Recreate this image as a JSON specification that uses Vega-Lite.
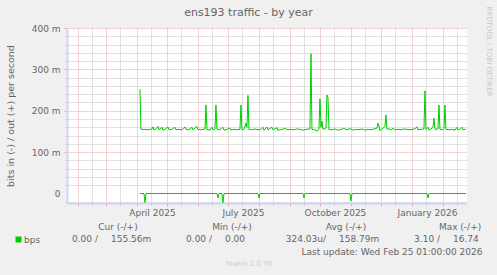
{
  "$schema": "https://vega.github.io/schema/vega-lite/v6.json",
  "width": 400,
  "height": 175,
  "autosize": {"type": "none"},
  "padding": {"left": 67, "top": 28, "right": 30, "bottom": 72},
  "background": "#F0F0F0",
  "view": {"fill": "#FFFFFF", "stroke": null},
  "config": {
    "font": "DejaVu Sans",
    "axis": {"labelFont": "DejaVu Sans", "titleFont": "DejaVu Sans"},
    "legend": {"labelFont": "DejaVu Sans"}
  },
  "title": {
    "text": "ens193 traffic - by year",
    "font": "DejaVu Sans",
    "fontSize": 11,
    "fontWeight": "normal",
    "color": "#666666",
    "anchor": "middle",
    "frame": "group",
    "dx": -18.5,
    "offset": -21,
    "baseline": "alphabetic"
  },
  "datasets": {
    "out": [
      {"date": "2025-04-04", "value": 252},
      {"date": "2025-04-05", "value": 155},
      {"date": "2025-04-09", "value": 155},
      {"date": "2025-04-13", "value": 154},
      {"date": "2025-04-16", "value": 156},
      {"date": "2025-04-17", "value": 161},
      {"date": "2025-04-18", "value": 153},
      {"date": "2025-04-20", "value": 156},
      {"date": "2025-04-22", "value": 162},
      {"date": "2025-04-23", "value": 154},
      {"date": "2025-04-26", "value": 160},
      {"date": "2025-04-27", "value": 153},
      {"date": "2025-04-29", "value": 155},
      {"date": "2025-05-02", "value": 161},
      {"date": "2025-05-03", "value": 154},
      {"date": "2025-05-06", "value": 155},
      {"date": "2025-05-09", "value": 160},
      {"date": "2025-05-10", "value": 154},
      {"date": "2025-05-13", "value": 155},
      {"date": "2025-05-16", "value": 154},
      {"date": "2025-05-19", "value": 161},
      {"date": "2025-05-20", "value": 155},
      {"date": "2025-05-23", "value": 154},
      {"date": "2025-05-26", "value": 160},
      {"date": "2025-05-27", "value": 154},
      {"date": "2025-05-31", "value": 162},
      {"date": "2025-06-01", "value": 155},
      {"date": "2025-06-04", "value": 154},
      {"date": "2025-06-08", "value": 156},
      {"date": "2025-06-09", "value": 214},
      {"date": "2025-06-10", "value": 155},
      {"date": "2025-06-13", "value": 153},
      {"date": "2025-06-15", "value": 160},
      {"date": "2025-06-16", "value": 154},
      {"date": "2025-06-18", "value": 156},
      {"date": "2025-06-19", "value": 214},
      {"date": "2025-06-20", "value": 155},
      {"date": "2025-06-23", "value": 154},
      {"date": "2025-06-26", "value": 160},
      {"date": "2025-06-27", "value": 153},
      {"date": "2025-06-30", "value": 155},
      {"date": "2025-07-03", "value": 158},
      {"date": "2025-07-04", "value": 153},
      {"date": "2025-07-07", "value": 155},
      {"date": "2025-07-10", "value": 154},
      {"date": "2025-07-13", "value": 155},
      {"date": "2025-07-14", "value": 214},
      {"date": "2025-07-15", "value": 154},
      {"date": "2025-07-17", "value": 155},
      {"date": "2025-07-19", "value": 170},
      {"date": "2025-07-20", "value": 160},
      {"date": "2025-07-21", "value": 237},
      {"date": "2025-07-22", "value": 155},
      {"date": "2025-07-25", "value": 154},
      {"date": "2025-07-28", "value": 156},
      {"date": "2025-07-31", "value": 154},
      {"date": "2025-08-03", "value": 155},
      {"date": "2025-08-05", "value": 160},
      {"date": "2025-08-06", "value": 153},
      {"date": "2025-08-09", "value": 161},
      {"date": "2025-08-10", "value": 154},
      {"date": "2025-08-14", "value": 160},
      {"date": "2025-08-15", "value": 154},
      {"date": "2025-08-19", "value": 159},
      {"date": "2025-08-20", "value": 153},
      {"date": "2025-08-24", "value": 155},
      {"date": "2025-08-27", "value": 157},
      {"date": "2025-08-30", "value": 154},
      {"date": "2025-09-02", "value": 155},
      {"date": "2025-09-05", "value": 154},
      {"date": "2025-09-08", "value": 156},
      {"date": "2025-09-11", "value": 155},
      {"date": "2025-09-14", "value": 153},
      {"date": "2025-09-17", "value": 155},
      {"date": "2025-09-21", "value": 156},
      {"date": "2025-09-22", "value": 338},
      {"date": "2025-09-23", "value": 155},
      {"date": "2025-09-26", "value": 154},
      {"date": "2025-09-28", "value": 151},
      {"date": "2025-09-30", "value": 155},
      {"date": "2025-10-01", "value": 229},
      {"date": "2025-10-02", "value": 160},
      {"date": "2025-10-03", "value": 175},
      {"date": "2025-10-04", "value": 155},
      {"date": "2025-10-07", "value": 158},
      {"date": "2025-10-08", "value": 238},
      {"date": "2025-10-09", "value": 232},
      {"date": "2025-10-10", "value": 155},
      {"date": "2025-10-13", "value": 154},
      {"date": "2025-10-16", "value": 156},
      {"date": "2025-10-19", "value": 153},
      {"date": "2025-10-22", "value": 155},
      {"date": "2025-10-25", "value": 157},
      {"date": "2025-10-28", "value": 154},
      {"date": "2025-10-31", "value": 157},
      {"date": "2025-11-03", "value": 153},
      {"date": "2025-11-06", "value": 155},
      {"date": "2025-11-09", "value": 154},
      {"date": "2025-11-12", "value": 156},
      {"date": "2025-11-15", "value": 153},
      {"date": "2025-11-18", "value": 155},
      {"date": "2025-11-21", "value": 154},
      {"date": "2025-11-24", "value": 156},
      {"date": "2025-11-27", "value": 158},
      {"date": "2025-11-28", "value": 170},
      {"date": "2025-11-29", "value": 163},
      {"date": "2025-11-30", "value": 152},
      {"date": "2025-12-02", "value": 156},
      {"date": "2025-12-04", "value": 160},
      {"date": "2025-12-05", "value": 162},
      {"date": "2025-12-06", "value": 190},
      {"date": "2025-12-07", "value": 155},
      {"date": "2025-12-09", "value": 157},
      {"date": "2025-12-11", "value": 153},
      {"date": "2025-12-13", "value": 158},
      {"date": "2025-12-15", "value": 154},
      {"date": "2025-12-18", "value": 155},
      {"date": "2025-12-21", "value": 154},
      {"date": "2025-12-24", "value": 156},
      {"date": "2025-12-27", "value": 155},
      {"date": "2025-12-30", "value": 154},
      {"date": "2026-01-02", "value": 155},
      {"date": "2026-01-05", "value": 158},
      {"date": "2026-01-06", "value": 161},
      {"date": "2026-01-07", "value": 154},
      {"date": "2026-01-10", "value": 155},
      {"date": "2026-01-13", "value": 156},
      {"date": "2026-01-14", "value": 248},
      {"date": "2026-01-15", "value": 155},
      {"date": "2026-01-17", "value": 160},
      {"date": "2026-01-18", "value": 154},
      {"date": "2026-01-20", "value": 156},
      {"date": "2026-01-22", "value": 160},
      {"date": "2026-01-23", "value": 182},
      {"date": "2026-01-24", "value": 155},
      {"date": "2026-01-27", "value": 156},
      {"date": "2026-01-28", "value": 214},
      {"date": "2026-01-29", "value": 155},
      {"date": "2026-02-01", "value": 154},
      {"date": "2026-02-02", "value": 157},
      {"date": "2026-02-03", "value": 214},
      {"date": "2026-02-04", "value": 155},
      {"date": "2026-02-07", "value": 154},
      {"date": "2026-02-10", "value": 155},
      {"date": "2026-02-13", "value": 153},
      {"date": "2026-02-15", "value": 160},
      {"date": "2026-02-16", "value": 154},
      {"date": "2026-02-18", "value": 155},
      {"date": "2026-02-20", "value": 160},
      {"date": "2026-02-21", "value": 154},
      {"date": "2026-02-23", "value": 155},
      {"date": "2026-02-24", "value": 155.56}
    ],
    "in": [
      {"date": "2025-04-04", "value": 0},
      {"date": "2025-04-08", "value": 0},
      {"date": "2025-04-09", "value": -22},
      {"date": "2025-04-10", "value": 0},
      {"date": "2025-06-20", "value": 0},
      {"date": "2025-06-21", "value": -11},
      {"date": "2025-06-22", "value": 0},
      {"date": "2025-06-25", "value": 0},
      {"date": "2025-06-26", "value": -22},
      {"date": "2025-06-27", "value": 0},
      {"date": "2025-07-31", "value": 0},
      {"date": "2025-08-01", "value": -11},
      {"date": "2025-08-02", "value": 0},
      {"date": "2025-09-14", "value": 0},
      {"date": "2025-09-15", "value": -11},
      {"date": "2025-09-16", "value": 0},
      {"date": "2025-10-31", "value": 0},
      {"date": "2025-11-01", "value": -18},
      {"date": "2025-11-02", "value": 0},
      {"date": "2026-01-16", "value": 0},
      {"date": "2026-01-17", "value": -11},
      {"date": "2026-01-18", "value": 0},
      {"date": "2026-02-24", "value": 0}
    ],
    "stats": [
      {"stat": "Cur", "header": "Cur (-/+)", "inv": "0.00 /", "outv": "155.56m"},
      {"stat": "Min", "header": "Min (-/+)", "inv": "0.00 /", "outv": "\u00a0\u00a00.00"},
      {"stat": "Avg", "header": "Avg (-/+)", "inv": "324.03u/", "outv": "158.79m"},
      {"stat": "Max", "header": "Max (-/+)", "inv": "3.10 /", "outv": "16.74"}
    ]
  },
  "layer": [
    {
      "layer": [
        {
          "data": {"name": "out"},
          "mark": {"type": "line", "opacity": 0},
          "encoding": {
            "x": {"field": "date", "type": "temporal",
              "scale": {"type": "utc", "domain": [{"year": 2025, "month": 1, "date": 21, "hours": 1, "utc": true}, {"year": 2026, "month": 2, "date": 25, "hours": 1, "utc": true}]},
              "axis": {"orient": "bottom", "grid": true, "gridColor": "#C4C4C4", "gridDash": [1, 1], "gridWidth": 1,
                "values": [
                  {"year": 2025, "month": 2, "date": 15, "utc": true},
                  {"year": 2025, "month": 3, "date": 15, "utc": true},
                  {"year": 2025, "month": 4, "date": 15, "utc": true},
                  {"year": 2025, "month": 5, "date": 15, "utc": true},
                  {"year": 2025, "month": 6, "date": 15, "utc": true},
                  {"year": 2025, "month": 7, "date": 15, "utc": true},
                  {"year": 2025, "month": 8, "date": 15, "utc": true},
                  {"year": 2025, "month": 9, "date": 15, "utc": true},
                  {"year": 2025, "month": 10, "date": 15, "utc": true},
                  {"year": 2025, "month": 11, "date": 15, "utc": true},
                  {"year": 2025, "month": 12, "date": 15, "utc": true},
                  {"year": 2026, "month": 1, "date": 15, "utc": true},
                  {"year": 2026, "month": 2, "date": 15, "utc": true}
                ],
                "labels": false, "ticks": true, "tickColor": "#C4C4C4", "tickSize": 2, "domain": false,
                "title": "Munin 2.0.76", "titleFontSize": 7, "titleFontWeight": "normal", "titleColor": "#CDCDCD",
                "titleX": 181.5, "titleY": 60, "titleAlign": "center", "titleBaseline": "middle"}},
            "y": {"field": "value", "type": "quantitative",
              "scale": {"domain": [-23, 400], "nice": false, "zero": false},
              "axis": {"orient": "left", "grid": true, "gridColor": "#C4C4C4", "gridDash": [1, 1], "gridWidth": 1,
                "values": [-20, 20, 40, 60, 80, 120, 140, 160, 180, 220, 240, 260, 280, 320, 340, 360, 380],
                "labels": false, "ticks": true, "tickColor": "#C4C4C4", "tickSize": 2, "domain": false, "title": null}}
          }
        },
        {
          "data": {"name": "out"},
          "mark": {"type": "line", "opacity": 0},
          "encoding": {
            "x": {"field": "date", "type": "temporal",
              "scale": {"type": "utc", "domain": [{"year": 2025, "month": 1, "date": 21, "hours": 1, "utc": true}, {"year": 2026, "month": 2, "date": 25, "hours": 1, "utc": true}]},
              "axis": {"orient": "bottom", "grid": true, "gridColor": "#EFA8A8", "gridDash": [1, 1], "gridWidth": 1,
                "values": [
                  {"year": 2025, "month": 2, "date": 1, "utc": true},
                  {"year": 2025, "month": 3, "date": 1, "utc": true},
                  {"year": 2025, "month": 4, "date": 1, "utc": true},
                  {"year": 2025, "month": 5, "date": 1, "utc": true},
                  {"year": 2025, "month": 6, "date": 1, "utc": true},
                  {"year": 2025, "month": 7, "date": 1, "utc": true},
                  {"year": 2025, "month": 8, "date": 1, "utc": true},
                  {"year": 2025, "month": 9, "date": 1, "utc": true},
                  {"year": 2025, "month": 10, "date": 1, "utc": true},
                  {"year": 2025, "month": 11, "date": 1, "utc": true},
                  {"year": 2025, "month": 12, "date": 1, "utc": true},
                  {"year": 2026, "month": 1, "date": 1, "utc": true},
                  {"year": 2026, "month": 2, "date": 1, "utc": true}
                ],
                "labels": false, "ticks": true, "tickColor": "#EFA8A8", "tickSize": 3, "domain": false, "title": null}},
            "y": {"field": "value", "type": "quantitative",
              "scale": {"domain": [-23, 400], "nice": false, "zero": false},
              "axis": {"orient": "left", "grid": true, "gridColor": "#EFA8A8", "gridDash": [1, 1], "gridWidth": 1,
                "values": [100, 200, 300, 400],
                "labels": false, "ticks": true, "tickColor": "#EFA8A8", "tickSize": 3, "domain": false,
                "title": null}}
          }
        },
        {
          "data": {"name": "out"},
          "mark": {"type": "line", "opacity": 0},
          "encoding": {
            "x": {"field": "date", "type": "temporal",
              "scale": {"type": "utc", "domain": [{"year": 2025, "month": 1, "date": 21, "hours": 1, "utc": true}, {"year": 2026, "month": 2, "date": 25, "hours": 1, "utc": true}]},
              "axis": null},
            "y": {"field": "value", "type": "quantitative",
              "scale": {"domain": [-23, 400], "nice": false, "zero": false},
              "axis": {"orient": "right", "labels": false, "ticks": false, "grid": false, "domain": false,
                "title": "RRDTOOL / TOBI OETIKER", "titleFontSize": 7, "titleFontWeight": "normal", "titleColor": "#C8C8C8",
                "titleX": 21, "titleY": 23, "titleAngle": 90, "titleAlign": "center", "titleBaseline": "middle"}}
          }
        },
        {
          "data": {"name": "in"},
          "mark": {"type": "line", "strokeWidth": 1, "color": "#00CC00"},
          "encoding": {
            "x": {"field": "date", "type": "temporal",
              "scale": {"type": "utc", "domain": [{"year": 2025, "month": 1, "date": 21, "hours": 1, "utc": true}, {"year": 2026, "month": 2, "date": 25, "hours": 1, "utc": true}]},
              "axis": null},
            "y": {"field": "value", "type": "quantitative",
              "scale": {"domain": [-23, 400], "nice": false, "zero": false},
              "axis": null}
          }
        },
        {
          "data": {"name": "out"},
          "mark": {"type": "line", "strokeWidth": 1},
          "encoding": {
            "x": {"field": "date", "type": "temporal",
              "scale": {"type": "utc", "domain": [{"year": 2025, "month": 1, "date": 21, "hours": 1, "utc": true}, {"year": 2026, "month": 2, "date": 25, "hours": 1, "utc": true}]},
              "axis": {"orient": "bottom", "grid": false, "ticks": false,
                "values": [
                  {"year": 2025, "month": 4, "date": 16, "utc": true},
                  {"year": 2025, "month": 7, "date": 16, "utc": true},
                  {"year": 2025, "month": 10, "date": 16, "utc": true},
                  {"year": 2026, "month": 1, "date": 16, "utc": true}
                ],
                "format": "%B %Y", "labelFontSize": 9, "labelColor": "#666666", "labelPadding": 5,
                "labelFlush": false, "labelOverlap": false,
                "domain": true, "domainColor": "#CFD6F8", "domainWidth": 2,
                "title": "Last update: Wed Feb 25 01:00:00 2026", "titleFontSize": 9, "titleFontWeight": "normal",
                "titleColor": "#666666", "titleX": 415, "titleY": 48, "titleAlign": "right", "titleBaseline": "middle"}},
            "y": {"field": "value", "type": "quantitative",
              "scale": {"domain": [-23, 400], "nice": false, "zero": false},
              "axis": {"orient": "left", "grid": false, "ticks": false,
                "values": [0, 100, 200, 300, 400],
                "labelExpr": "datum.value == 0 ? '0' : datum.value + ' m'",
                "labelFontSize": 9, "labelColor": "#666666", "labelPadding": 7,
                "domain": true, "domainColor": "#CFD6F8", "domainWidth": 2,
                "title": "bits in (-) / out (+) per second", "titleFontSize": 9.5, "titleFontWeight": "normal",
                "titleColor": "#666666", "titleX": -54, "titleY": 87.5, "titleAngle": -90,
                "titleAlign": "center", "titleBaseline": "alphabetic"}},
            "color": {"datum": "bps", "type": "nominal",
              "scale": {"domain": ["bps"], "range": ["#00CC00"]},
              "legend": {"orient": "none", "legendX": -53, "legendY": 207, "title": null,
                "symbolType": "square", "symbolSize": 36, "symbolFillColor": "#00CC00", "symbolStrokeColor": "#00CC00",
                "symbolStrokeWidth": 0, "labelFontSize": 9, "labelColor": "#666666", "labelOffset": 1, "padding": 0}}
          }
        },
        {
          "mark": {"type": "point", "shape": "triangle-up", "filled": true, "color": "#CFD6F8", "size": 30, "opacity": 1, "clip": false},
          "encoding": {
            "x": {"datum": {"year": 2025, "month": 1, "date": 21, "hours": 1, "utc": true}, "type": "temporal",
              "scale": {"type": "utc", "domain": [{"year": 2025, "month": 1, "date": 21, "hours": 1, "utc": true}, {"year": 2026, "month": 2, "date": 25, "hours": 1, "utc": true}]},
              "axis": null},
            "y": {"datum": 410, "type": "quantitative",
              "scale": {"domain": [-23, 400], "nice": false, "zero": false}, "axis": null}
          }
        },
        {
          "mark": {"type": "point", "shape": "triangle-right", "filled": true, "color": "#CFD6F8", "size": 30, "opacity": 1, "clip": false},
          "encoding": {
            "x": {"datum": {"year": 2026, "month": 2, "date": 28, "hours": 1, "utc": true}, "type": "temporal",
              "scale": {"type": "utc", "domain": [{"year": 2025, "month": 1, "date": 21, "hours": 1, "utc": true}, {"year": 2026, "month": 2, "date": 25, "hours": 1, "utc": true}]},
              "axis": null},
            "y": {"datum": -23, "type": "quantitative",
              "scale": {"domain": [-23, 400], "nice": false, "zero": false}, "axis": null}
          }
        }
      ],
      "resolve": {"axis": {"x": "independent", "y": "independent"}}
    },
    {
      "data": {"name": "stats"},
      "layer": [
        {
          "mark": {"type": "text", "fontSize": 9, "color": "#666666", "align": "center", "baseline": "middle", "clip": false},
          "encoding": {
            "x": {"field": "stat", "type": "nominal",
              "scale": {"type": "point", "domain": ["Cur", "Min", "Avg", "Max"], "padding": 0.254, "align": 0.88}, "axis": null},
            "y": {"datum": -82, "type": "quantitative",
              "scale": {"domain": [-23, 400], "nice": false, "zero": false}, "axis": null},
            "text": {"field": "header"}
          }
        },
        {
          "mark": {"type": "text", "fontSize": 9, "color": "#666666", "align": "right", "baseline": "middle", "dx": -20, "clip": false},
          "encoding": {
            "x": {"field": "stat", "type": "nominal",
              "scale": {"type": "point", "domain": ["Cur", "Min", "Avg", "Max"], "padding": 0.254, "align": 0.88}, "axis": null},
            "y": {"datum": -110.5, "type": "quantitative",
              "scale": {"domain": [-23, 400], "nice": false, "zero": false}, "axis": null},
            "text": {"field": "inv"}
          }
        },
        {
          "mark": {"type": "text", "fontSize": 9, "color": "#666666", "align": "left", "baseline": "middle", "dx": -7, "clip": false},
          "encoding": {
            "x": {"field": "stat", "type": "nominal",
              "scale": {"type": "point", "domain": ["Cur", "Min", "Avg", "Max"], "padding": 0.254, "align": 0.88}, "axis": null},
            "y": {"datum": -110.5, "type": "quantitative",
              "scale": {"domain": [-23, 400], "nice": false, "zero": false}, "axis": null},
            "text": {"field": "outv"}
          }
        }
      ]
    },
    {
      "mark": {"type": "rule", "color": "#000000", "strokeWidth": 1},
      "encoding": {
        "y": {"datum": 0, "type": "quantitative",
          "scale": {"domain": [-23, 400], "nice": false, "zero": false}, "axis": null}
      }
    }
  ],
  "resolve": {"scale": {"x": "independent"}}
}
